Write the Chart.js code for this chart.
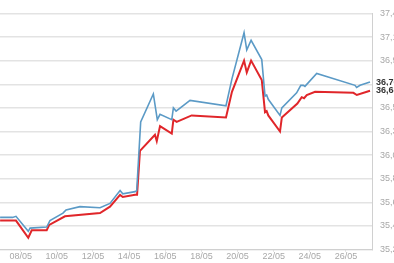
<!DOCTYPE html>
<html>
<head>
<meta charset="utf-8">
<script src="https://cdn.jsdelivr.net/npm/chart.js@4/dist/chart.umd.min.js"></script>
<style>
  html, body { margin: 0; padding: 0; background: #fff; overflow: hidden; }
  #wrap { width: 420px; height: 263px; }
</style>
</head>
<body>
<div id="wrap"><canvas id="chart" width="420" height="263"></canvas></div>
<script>
// days of May (fractional = intraday)
var blueDays = [6.86, 7.55, 7.74, 8.42, 8.52, 9.44, 9.62, 10.34, 10.51, 11.28, 12.39, 12.94, 13.50, 13.65, 14.33, 14.42,
    14.64, 15.34, 15.56, 15.71, 16.36, 16.45, 16.60, 17.37, 19.36, 19.69, 20.36, 20.51, 20.75, 21.34, 21.52, 21.61,
    21.70, 22.35, 22.45, 23.27, 23.50, 23.64, 23.73, 24.38, 26.50, 26.59, 26.78, 27.33];
var blueValues = [35.50, 35.50, 35.51, 35.37, 35.40, 35.41, 35.47, 35.54, 35.57, 35.60, 35.59, 35.63, 35.75, 35.72, 35.74, 35.75,
    36.39, 36.65, 36.41, 36.46, 36.41, 36.52, 36.49, 36.59, 36.54, 36.79, 37.22, 37.06, 37.15, 36.97, 36.63, 36.64,
    36.60, 36.45, 36.52, 36.66, 36.73, 36.73, 36.72, 36.84, 36.73, 36.71, 36.73, 36.76];

var redDays = [6.86, 7.74, 8.42, 8.61, 9.44, 9.58, 10.45, 12.39, 12.94, 13.50, 13.65, 14.33, 14.44, 14.60, 15.43, 15.53,
    15.71, 16.36, 16.45, 16.63, 17.46, 19.36, 19.69, 20.36, 20.51, 20.75, 21.34, 21.43, 21.52, 21.61, 21.70, 22.35,
    22.45, 23.31, 23.55, 23.68, 23.83, 24.29, 26.41, 26.60, 27.33];
var redValues = [35.47, 35.47, 35.31, 35.38, 35.38, 35.43, 35.51, 35.54, 35.60, 35.71, 35.69, 35.71, 35.71, 36.12, 36.27, 36.21,
    36.35, 36.28, 36.41, 36.39, 36.45, 36.43, 36.67, 36.96, 36.85, 36.96, 36.78, 36.63, 36.48, 36.49, 36.45, 36.30,
    36.43, 36.56, 36.62, 36.61, 36.64, 36.67, 36.66, 36.64, 36.68];

var xTickDays = [8, 10, 12, 14, 16, 18, 20, 22, 24, 26];
var yTickValues = [35.20, 35.42, 35.64, 35.86, 36.08, 36.30, 36.52, 36.74, 36.96, 37.18, 37.40];

var blueColor = '#5b9ac6';
var redColor = '#e0262a';

function toPoints(days, values) {
    return days.map(function(d, i) { return { x: d, y: values[i] }; });
}
function fmt(v) {
    return v.toFixed(2).replace('.', ',');
}

// last-value tags on the right axis
var lastValueTags = {
    id: 'lastValueTags',
    afterDraw: function(chart) {
        var ctx = chart.ctx;
        var y = chart.scales.y;
        ctx.save();
        ctx.font = 'bold 9px "Liberation Sans", Arial, sans-serif';
        ctx.textBaseline = 'middle';
        ctx.textAlign = 'left';
        chart.data.datasets.forEach(function(ds) {
            var last = ds.data[ds.data.length - 1].y;
            var py = y.getPixelForValue(last);
            ctx.fillStyle = '#fff';
            ctx.fillRect(chart.chartArea.right + 2, py - 5, 40, 10);
            ctx.fillStyle = '#333';
            ctx.fillText(fmt(last), chart.chartArea.right + 4, py);
        });
        ctx.restore();
    }
};

var ctx = document.getElementById('chart').getContext('2d');
var myChart = new Chart(ctx, {
    type: 'line',
    data: {
        datasets: [{
            data: toPoints(blueDays, blueValues),
            borderColor: blueColor,
            borderWidth: 1.6,
            pointRadius: 0,
            tension: 0
        }, {
            data: toPoints(redDays, redValues),
            borderColor: redColor,
            borderWidth: 2,
            pointRadius: 0,
            tension: 0
        }]
    },
    options: {
        responsive: false,
        animation: false,
        layout: { padding: { top: 5, left: 0, right: 0, bottom: 0 } },
        plugins: { legend: { display: false }, tooltip: { enabled: false } },
        scales: {
            x: {
                type: 'linear',
                min: 6.855,
                max: 27.44,
                afterBuildTicks: function(scale) {
                    scale.ticks = xTickDays.map(function(d) { return { value: d }; });
                },
                afterFit: function(scale) { scale.height = 11; },
                grid: { drawOnChartArea: false, drawTicks: true, tickLength: 2, color: '#d6d6d6' },
                border: { color: '#d0d0d0' },
                ticks: {
                    padding: 0,
                    maxRotation: 0,
                    autoSkip: false,
                    color: '#a8a8a8',
                    font: { family: '"Liberation Sans", Arial, sans-serif', size: 9 },
                    callback: function(value) {
                        return (value < 10 ? '0' : '') + value + '/05';
                    }
                }
            },
            y: {
                position: 'right',
                min: 35.20,
                max: 37.40,
                afterBuildTicks: function(scale) {
                    scale.ticks = yTickValues.map(function(v) { return { value: v }; });
                },
                afterFit: function(scale) { scale.width = 48; },
                grid: { color: '#e3e3e3', lineWidth: 1.5, drawTicks: false },
                border: { color: '#d0d0d0' },
                ticks: {
                    padding: 8,
                    color: '#a8a8a8',
                    font: { family: '"Liberation Sans", Arial, sans-serif', size: 9 },
                    callback: function(value) { return fmt(value); }
                }
            }
        }
    },
    plugins: [lastValueTags]
});
</script>
</body>
</html>
